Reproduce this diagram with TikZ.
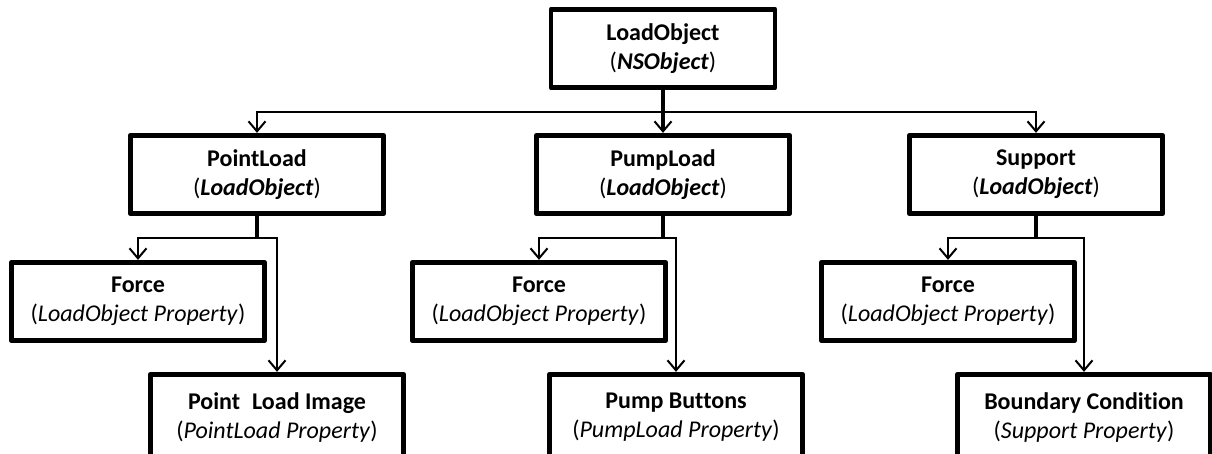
\documentclass[tikz,border=0pt]{standalone}
\usepackage{fontspec}
\setmainfont{Carlito}[Ligatures=NoCommon]
\usetikzlibrary{arrows.meta}
\begin{document}
\begin{tikzpicture}[x=1pt,y=-1pt,
  classbox/.style={draw, line width=4.8pt, line join=round, fill=white,
    minimum width=253.5pt, minimum height=78.5pt, inner sep=0pt,
    align=center, font=\fontsize{24}{29}\selectfont},
  rootbox/.style={classbox, minimum width=224pt},
  lowbox/.style={classbox, minimum height=86.5pt},
  trunk/.style={line width=4pt},
  branch/.style={line width=2.2pt},
  tip/.style={-{Straight Barb[length=10pt,width=17pt,line width=2pt]}}]
\useasboundingbox (0,0) rectangle (1212,453);

% class hierarchy
\node[rootbox] (root) at (663,48.5) {\textbf{LoadObject}\\(\textbf{\textit{NSObject}})};

\node[classbox] (point)   at (257,174.5)  {\textbf{PointLoad}\\(\textbf{\textit{LoadObject}})};
\node[classbox] (pump)    at (663,174.5)  {\textbf{PumpLoad}\\(\textbf{\textit{LoadObject}})};
\node[classbox] (support) at (1036,174.5) {\textbf{Support}\\(\textbf{\textit{LoadObject}})};

% properties
\node[classbox] (forceA) at (138,301.5) {\textbf{Force}\\(\textit{LoadObject Property})};
\node[classbox] (forceB) at (539,301.5) {\textbf{Force}\\(\textit{LoadObject Property})};
\node[classbox] (forceC) at (948,301.5) {\textbf{Force}\\(\textit{LoadObject Property})};

\node[lowbox] (image)    at (277,417.5)  {\textbf{Point\hspace{0.5em}Load Image}\\(\textit{PointLoad Property})};
\node[lowbox] (buttons)  at (676,417.5)  {\textbf{Pump Buttons}\\(\textit{PumpLoad Property})};
\node[lowbox] (boundary) at (1084,417.5) {\textbf{Boundary Condition}\\(\textit{Support Property})};

% junctions
\coordinate (j0) at (root.south |- 0,112);
\coordinate (j1) at (point.south |- 0,238);
\coordinate (j2) at (pump.south |- 0,238);
\coordinate (j3) at (support.south |- 0,238);

% connectors
\draw[trunk] (root.south) -- (j0);
\draw[trunk,tip] (j0) -- (pump.north);
\draw[branch,tip] (j0) -| (point.north);
\draw[branch,tip] (j0) -| (support.north);

\draw[trunk] (point.south) -- (j1);
\draw[branch,tip] (j1) -| (forceA.north);
\draw[branch,tip] (j1) -| (image.north);

\draw[trunk] (pump.south) -- (j2);
\draw[branch,tip] (j2) -| (forceB.north);
\draw[branch,tip] (j2) -| (buttons.north);

\draw[trunk] (support.south) -- (j3);
\draw[branch,tip] (j3) -| (forceC.north);
\draw[branch,tip] (j3) -| (boundary.north);
\end{tikzpicture}
\end{document}
